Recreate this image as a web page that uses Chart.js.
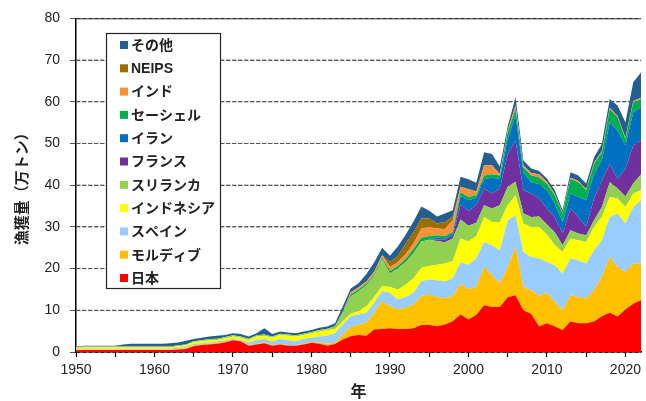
<!DOCTYPE html>
<html>
<head>
<meta charset="utf-8">
<script src="https://cdn.jsdelivr.net/npm/chart.js@4"></script>
</head>
<body style="margin:0">
<canvas id="chart" width="646" height="401"></canvas>
<script>
// 年
const years = [];
for (let y = 1950; y <= 2022; y++) years.push(y);

// 漁獲量（万トン） 1950-2022
const japan = [
  0.4, 0.5, 0.5, 0.5, 0.5, 0.5, 0.5, 0.5, 0.5, 0.5,
  0.5, 0.5, 0.5, 0.6, 0.7, 1.4, 1.7, 1.8, 2.0, 2.3,
  2.8, 2.6, 1.5, 1.8, 2.1, 1.5, 1.8, 1.5, 1.5, 1.8,
  2.2, 2.0, 1.5, 1.9, 3.0, 3.8, 4.1, 3.9, 5.4, 5.5,
  5.7, 5.5, 5.5, 5.7, 6.5, 6.5, 6.2, 6.6, 7.4, 9.0,
  7.8, 8.9, 11.2, 10.8, 10.8, 13.1, 13.6, 10.0, 9.1, 6.1,
  6.9, 6.1, 5.3, 7.3, 6.9, 6.9, 7.3, 8.6, 9.4, 8.5,
  10.2, 11.6, 12.4
];
const maldives = [
  0.1, 0.1, 0.1, 0.1, 0.1, 0.1, 0.1, 0.1, 0.1, 0.1,
  0.1, 0.1, 0.1, 0.2, 0.2, 0.2, 0.15, 0.2, 0.2, 0.2,
  0.1, 0.1, 0.2, 0.2, 0.2, 0.2, 0.2, 0.2, 0.2, 0.2,
  0.2, 0.3, 0.5, 0.3, 1.2, 2.2, 2.4, 3.1, 4.0, 6.7,
  5.3, 4.7, 5.1, 5.7, 6.9, 7.3, 7.0, 6.3, 6.0, 7.3,
  7.3, 6.7, 9.2, 7.6, 5.6, 7.3, 11.6, 5.6, 5.7, 7.3,
  7.3, 5.9, 4.7, 6.3, 6.3, 5.9, 7.5, 9.4, 13.4, 11.9,
  9.0, 9.6, 8.8
];
const spain = [
  0.2, 0.2, 0.2, 0.2, 0.2, 0.2, 0.2, 0.2, 0.2, 0.2,
  0.2, 0.2, 0.2, 0.2, 0.3, 0.3, 0.25, 0.3, 0.3, 0.3,
  0.2, 0.2, 0.6, 0.9, 0.8, 0.8, 1.1, 1.2, 0.9, 1.1,
  1.0, 1.4, 1.9, 2.3, 2.4, 2.6, 2.5, 2.4, 2.4, 2.4,
  3.2, 2.4, 2.6, 2.8, 3.6, 3.6, 4.0, 4.0, 4.3, 5.2,
  5.8, 6.9, 6.0, 7.2, 8.0, 11.2, 7.6, 8.4, 8.0, 9.0,
  7.4, 8.8, 8.8, 8.8, 8.8, 8.4, 9.6, 8.8, 9.6, 12.8,
  11.6, 13.6, 15.2
];
const indonesia = [
  0.3, 0.3, 0.3, 0.3, 0.3, 0.3, 0.3, 0.3, 0.3, 0.3,
  0.3, 0.3, 0.3, 0.4, 0.4, 0.5, 0.5, 0.5, 0.4, 0.5,
  0.6, 0.5, 0.6, 0.8, 0.8, 0.9, 1.0, 1.0, 1.1, 1.0,
  1.1, 1.2, 1.3, 1.0, 0.8, 0.6, 0.8, 1.6, 1.4, 1.2,
  1.4, 2.4, 2.9, 3.5, 3.2, 3.2, 3.7, 4.3, 4.1, 5.7,
  5.6, 5.3, 6.0, 5.6, 6.8, 3.6, 4.8, 6.8, 7.2, 7.6,
  6.6, 4.8, 5.2, 4.8, 4.8, 5.2, 5.6, 5.6, 4.8, 3.6,
  4.0, 3.2, 2.4
];
const srilanka = [
  0.2, 0.2, 0.2, 0.2, 0.2, 0.2, 0.2, 0.2, 0.2, 0.2,
  0.2, 0.2, 0.2, 0.2, 0.2, 0.2, 0.2, 0.3, 0.3, 0.3,
  0.3, 0.3, 0.3, 0.3, 0.3, 0.3, 0.3, 0.3, 0.3, 0.3,
  0.3, 0.4, 0.4, 0.7, 1.8, 4.1, 4.7, 5.0, 5.0, 6.4,
  3.2, 5.0, 5.4, 6.0, 6.3, 6.3, 5.7, 5.1, 5.4, 4.6,
  3.8, 3.2, 2.8, 3.2, 4.0, 4.4, 3.2, 2.4, 2.4, 2.5,
  2.4, 3.1, 1.6, 2.0, 1.6, 1.6, 1.6, 2.4, 3.5, 2.4,
  2.5, 2.4, 3.8
];
const france = [
  0, 0, 0, 0, 0, 0, 0, 0, 0, 0,
  0, 0, 0, 0, 0, 0, 0, 0, 0, 0,
  0, 0, 0, 0, 0, 0, 0, 0, 0, 0,
  0, 0, 0, 0, 0, 0, 0, 0, 0, 0,
  0, 0, 0, 0, 0, 0, 0.4, 0.7, 0.6, 3.5,
  3.5, 4.2, 4.0, 3.6, 4.0, 7.9, 9.9, 5.6, 5.6, 4.3,
  3.8, 3.7, 2.8, 5.2, 4.0, 2.0, 5.2, 6.3, 4.4, 2.3,
  6.7, 9.1, 8.1
];
const iran = [
  0, 0, 0, 0, 0, 0, 0, 0, 0, 0,
  0, 0, 0, 0, 0, 0, 0, 0, 0, 0,
  0, 0, 0, 0, 0, 0, 0, 0, 0, 0,
  0, 0, 0, 0, 0, 0, 0, 0, 0, 0,
  0, 0, 0, 0, 0, 0, 0.4, 0.3, 0.5, 2.2,
  2.6, 1.8, 2.3, 3.8, 2.3, 3.6, 6.0, 4.3, 2.7, 3.5,
  4.4, 3.2, 2.8, 3.6, 4.8, 6.4, 5.9, 4.8, 10.0, 11.6,
  5.5, 8.0, 8.0
];
const seychelles = [
  0, 0, 0, 0, 0, 0, 0, 0, 0, 0,
  0, 0, 0, 0, 0, 0, 0, 0, 0, 0,
  0, 0, 0, 0, 0, 0, 0, 0, 0, 0,
  0, 0, 0, 0, 0.2, 0.5, 0.5, 0.4, 0.4, 0.4,
  0.6, 0.6, 0.8, 1.0, 0.9, 0.9, 0.6, 0.5, 0.5, 0.8,
  0.8, 0.6, 0.8, 0.8, 0.8, 1.6, 1.6, 1.2, 1.6, 1.6,
  1.5, 2.0, 2.0, 3.5, 3.5, 2.4, 2.4, 2.0, 3.2, 3.2,
  1.6, 2.4, 2.0
];
const india = [
  0, 0, 0, 0, 0, 0, 0, 0, 0, 0,
  0, 0, 0, 0, 0, 0, 0, 0, 0, 0,
  0, 0, 0, 0, 0, 0, 0, 0, 0, 0,
  0, 0, 0, 0, 0.3, 0.5, 0.5, 0.5, 0.7, 0.6,
  1.0, 0.9, 1.2, 1.3, 2.2, 2.2, 1.6, 1.7, 2.8, 1.2,
  1.8, 0.8, 2.5, 2.2, 0.4, 0.4, 0.8, 0.4, 0.6, 0.7,
  0.5, 0.3, 0.2, 0.3, 0.3, 0.3, 0.3, 0.3, 0.3, 0.3,
  0.3, 0.3, 0.3
];
const neips = [
  0, 0, 0, 0, 0, 0, 0, 0, 0, 0,
  0, 0, 0, 0, 0, 0, 0, 0, 0, 0,
  0, 0, 0, 0, 0, 0, 0, 0, 0, 0,
  0, 0, 0, 0, 0, 0, 0, 0, 0, 0,
  1.2, 1.5, 2.5, 2.7, 2.4, 2.0, 1.2, 1.7, 0.8, 0.1,
  0.1, 0.1, 0, 0, 0, 0, 0, 0, 0, 0,
  0, 0, 0, 0, 0, 0, 0, 0, 0, 0,
  0, 0, 0
];
const other = [
  0.1, 0.2, 0.2, 0.2, 0.2, 0.2, 0.5, 0.7, 0.7, 0.7,
  0.7, 0.7, 0.8, 0.7, 0.9, 0.5, 0.6, 0.6, 0.7, 0.5,
  0.5, 0.6, 0.5, 0.5, 1.5, 0.6, 0.5, 0.5, 0.5, 0.5,
  0.5, 0.5, 0.5, 0.7, 1.3, 0.9, 1.0, 1.8, 2.2, 1.8,
  1.5, 2.3, 2.1, 2.6, 2.9, 1.9, 1.7, 2.0, 1.6, 2.4,
  2.3, 2.1, 3.1, 2.7, 1.8, 1.0, 2.0, 1.2, 1.1, 0.8,
  0.8, 0.9, 0.6, 1.3, 1.3, 1.3, 1.3, 1.7, 2.1, 2.5,
  3.7, 4.5, 6.1
];

// 積み上げ順（下から）
const seriesNames = ['日本', 'モルディブ', 'スペイン', 'インドネシア', 'スリランカ', 'フランス', 'イラン', 'セーシェル', 'インド', 'NEIPS', 'その他'];
const seriesData = [japan, maldives, spain, indonesia, srilanka, france, iran, seychelles, india, neips, other];
const seriesColors = ['#FF0000', '#FFC000', '#99CCFF', '#FFFF00', '#92D050', '#7030A0', '#0070C0', '#00B050', '#F7923A', '#9A6E00', '#255E91'];

const yTicks = [0, 10, 20, 30, 40, 50, 60, 70, 80];
const yMax = yTicks[yTicks.length - 1];

const areaSets = seriesNames.map(function (name, i) {
    return {
        label: name,
        data: years.map(function (yr, j) { return { x: yr, y: seriesData[i][j] }; }),
        backgroundColor: seriesColors[i],
        borderWidth: 0,
        pointRadius: 0,
        order: 0,
        fill: i === 0 ? 'origin' : '-1'
    };
});

// 目盛り線（10〜70は破線、80は実線）。面より下に描く
const gridSets = yTicks.filter(function (v) { return v > 0; }).map(function (v) {
    return {
        label: 'grid' + v,
        yAxisID: 'yg',
        data: [{ x: years[0], y: v }, { x: years[years.length - 1], y: v }],
        borderColor: v === yMax ? '#000' : '#555',
        borderWidth: v === yMax ? 1.5 : 1,
        borderDash: v === yMax ? [] : [4, 2],
        pointRadius: 0,
        fill: false,
        order: 1
    };
});

// 凡例（グラフ内の枠）
const boxLegend = {
    id: 'boxLegend',
    afterDraw: function (chart) {
        const ctx = chart.ctx;
        const items = chart.data.datasets.slice(0, seriesNames.length).reverse();
        ctx.save();
        ctx.fillStyle = '#fff';
        ctx.fillRect(106, 33, 115, 256);
        ctx.strokeStyle = '#222';
        ctx.lineWidth = 1.2;
        ctx.strokeRect(106.5, 33.5, 114, 255);
        ctx.font = 'bold 14px "Liberation Sans", "Noto Sans CJK JP"';
        ctx.textBaseline = 'middle';
        items.forEach(function (ds, i) {
            const y = 45 + i * 23.3;
            ctx.fillStyle = ds.backgroundColor;
            ctx.fillRect(120, y - 4, 8, 8);
            ctx.fillStyle = '#222';
            ctx.fillText(ds.label, 131, y + 1);
        });
        ctx.restore();
    }
};

const tickFont = { family: '"Liberation Sans", Arial, sans-serif', size: 14 };

new Chart(document.getElementById('chart').getContext('2d'), {
    type: 'line',
    data: { datasets: areaSets.concat(gridSets) },
    plugins: [boxLegend],
    options: {
        responsive: false,
        animation: false,
        devicePixelRatio: 1,
        layout: { padding: { top: 17, right: 0, left: 0, bottom: 0 } },
        plugins: {
            legend: { display: false },
            tooltip: { enabled: false }
        },
        scales: {
            x: {
                type: 'linear',
                min: years[0],
                max: years[years.length - 1],
                ticks: {
                    stepSize: 5,
                    includeBounds: false,
                    autoSkip: false,
                    maxRotation: 0,
                    padding: 5,
                    color: '#222',
                    font: tickFont,
                    callback: function (v) { return v % 10 === 0 ? String(v) : ''; }
                },
                grid: { drawOnChartArea: false, drawTicks: true, tickLength: 5, color: '#000', tickWidth: 1.2 },
                border: { color: '#000', width: 1.5 },
                title: { display: true, text: '年', color: '#222', font: { family: '"Noto Sans CJK JP", sans-serif', size: 16, weight: 'bold' }, padding: { top: 0, bottom: 0 } },
                afterFit: function (s) { s.height = 49; }
            },
            y: {
                stacked: true,
                min: yTicks[0],
                max: yMax,
                ticks: { stepSize: 10, padding: 10, color: '#222', font: tickFont },
                grid: { drawOnChartArea: true, color: '#555', drawTicks: true, tickLength: 6 },
                border: { color: '#000', width: 1.5, dash: [4, 2] },
                title: { display: true, text: '漁獲量（万トン）', color: '#222', font: { family: '"Noto Sans CJK JP", sans-serif', size: 15, weight: 'bold' }, padding: { top: 12, bottom: 0 } },
                afterFit: function (s) { s.width = 76; }
            },
            yg: {
                type: 'linear',
                display: false,
                min: yTicks[0],
                max: yMax
            }
        }
    }
});
</script>
</body>
</html>
